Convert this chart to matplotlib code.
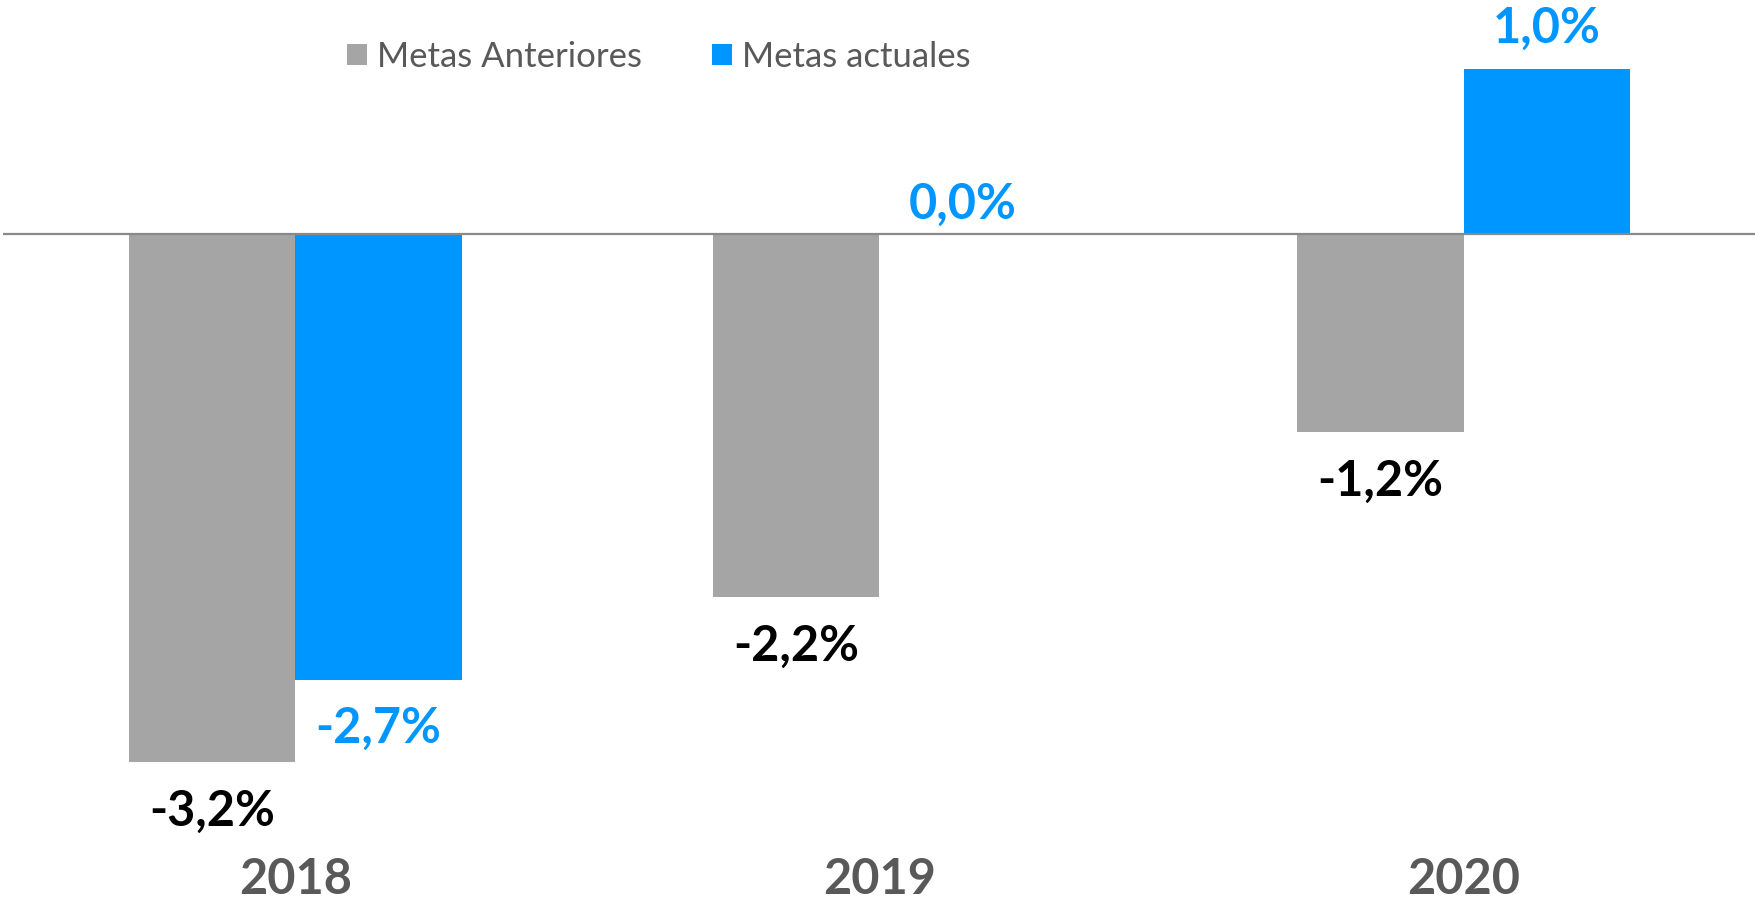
import matplotlib

matplotlib.use("Agg")

import matplotlib.pyplot as plt
import numpy as np

years = ["2018", "2019", "2020"]
metas_anteriores = [-3.2, -2.2, -1.2]
metas_actuales = [-2.7, 0.0, 1.0]
series_names = ["Metas Anteriores", "Metas actuales"]

GRAY = "#A5A5A5"
BLUE = "#0096FF"
DARK = "#595959"

plt.rcParams["font.family"] = ["Lato", "DejaVu Sans"]

fig = plt.figure(figsize=(17.56, 9.02), dpi=100)
ax = fig.add_axes([3 / 1756, 0, 1753 / 1756, 1])
ax.set_xlim(-0.5, 2.5)
ax.set_ylim(-(902 - 234) / 165, 234 / 165)
ax.axis("off")

x = np.arange(len(years))
w = 0.285
b1 = ax.bar(x - w / 2, metas_anteriores, w, color=GRAY, label=series_names[0])
b2 = ax.bar(x + w / 2, metas_actuales, w, color=BLUE, label=series_names[1])
ax.axhline(0, color="#898989", linewidth=1.6, zorder=3)


def fmt(v):
    return f"{v:.1f}%".replace(".", ",")


for bars, vals, col in ((b1, metas_anteriores, "black"), (b2, metas_actuales, BLUE)):
    for rect, v in zip(bars, vals):
        cx = rect.get_x() + rect.get_width() / 2
        if v < 0:
            ax.annotate(fmt(v), (cx, v), xytext=(0, -19), textcoords="offset points",
                        ha="center", va="top", fontsize=35, fontweight="bold", color=col)
        else:
            off = 13 if v > 0 else 5
            ax.annotate(fmt(v), (cx, v), xytext=(0, off), textcoords="offset points",
                        ha="center", va="bottom", fontsize=35, fontweight="bold", color=col)

# category labels along the bottom
for xi, yr in zip(x, years):
    ax.text(xi, ax.get_ylim()[0], yr, ha="center", va="bottom", fontsize=35,
            fontweight="bold", color=DARK, transform=ax.transData)

ax.legend(ncol=2, frameon=False, loc="center", bbox_to_anchor=(0.374, 0.937),
          fontsize=25, labelcolor=DARK, handlelength=0.58, handleheight=0.58,
          handletextpad=0.3, columnspacing=2.0)

fig.savefig("out.png", dpi=100)
